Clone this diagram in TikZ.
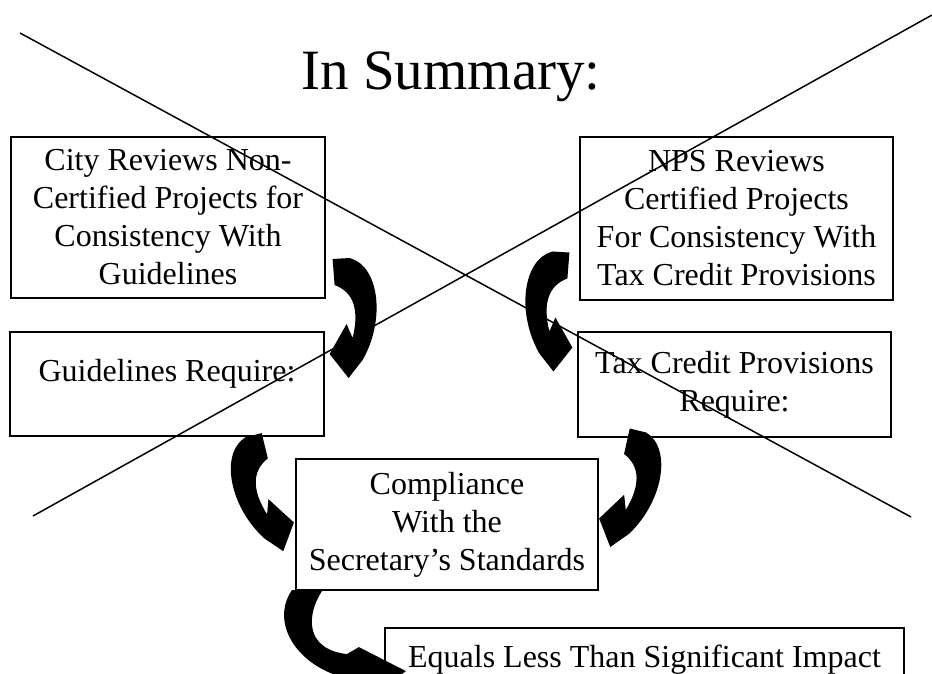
\documentclass[tikz,border=0pt]{standalone}
\usepackage{fontspec}
\setmainfont{Liberation Serif}
\usepackage{tikz}
\usetikzlibrary{shapes.geometric}
\newcommand{\boxfont}{\fontsize{32}{38}\selectfont}
\newcommand{\titlefont}{\fontsize{57}{68}\selectfont}
\tikzstyle{textbox} = [rectangle, draw=black, line width=1.2pt, align=center, font=\boxfont, inner sep=0pt]
\tikzstyle{boldbox} = [textbox, line width=2.2pt]
\tikzstyle{crossline} = [line width=1.5pt]
\tikzset{
  bentarrow/.pic={
    \fill[black] (3,95) -- (20,96) .. controls (50,88) and (56,34) .. (33,-6)
      -- (19,-24) -- (0,0) -- (17,30) -- (23,16)
      .. controls (30,44) and (24,62) .. (5,69) -- cycle;
  },
  sweeparrow/.pic={
    \fill[black] (-3,1) -- (27,0) .. controls (12,-23) and (9,-58) .. (52,-63)
      -- (64,-56) -- (111,-80) -- (78,-105) -- (56,-88)
      .. controls (4,-78) and (-26,-33) .. (-3,1) -- cycle;
  }
}

\begin{document}
\begin{tikzpicture}[x=1pt, y=1pt]
    \useasboundingbox (0,0) rectangle (932,673);
    \clip (0,0) rectangle (932,673);
    % Nodes
    \node (title) [anchor=base, font=\titlefont] at (451,583) {In Summary:};
    \node (city_rev) [textbox, minimum width=314, minimum height=161] at (168,455.5)
        {City Reviews Non-\\Certified Projects for\\Consistency With\\Guidelines};
    \node (nps_rev) [textbox, minimum width=313, minimum height=163] at (736.5,454.5)
        {NPS Reviews\\Certified Projects\\For Consistency With\\Tax Credit Provisions};
    \node (guide_req) [textbox, minimum width=314, minimum height=104, text height=22, text depth=26] at (167,289)
        {Guidelines Require:};
    \node (tax_req) [textbox, minimum width=313, minimum height=105] at (734.5,288.5)
        {Tax Credit Provisions\\Require:};
    \node (comply) [boldbox, minimum width=302, minimum height=131] at (447,148.5)
        {Compliance\\With the\\Secretary’s Standards};
    \node (impact) [boldbox, minimum width=519, minimum height=63] at (644.5,13.5)
        {Equals Less Than Significant Impact};
    % Arrows
    \pic at ([xshift=5pt, yshift=30pt]guide_req.east) {bentarrow};
    \pic [xscale=-1] at ([xshift=-5pt, yshift=37pt]tax_req.west) {bentarrow};
    \pic [rotate=18, xscale=-1] at ([xshift=-1pt, yshift=2pt]comply.west) {bentarrow};
    \pic [rotate=-17] at ([yshift=6pt]comply.east) {bentarrow};
    \pic at (comply.south west) {sweeparrow};
    % Cross
    \draw [crossline] (20,640) -- (911,156);
    \draw [crossline] (33,157) -- (932,658);
\end{tikzpicture}
\end{document}
